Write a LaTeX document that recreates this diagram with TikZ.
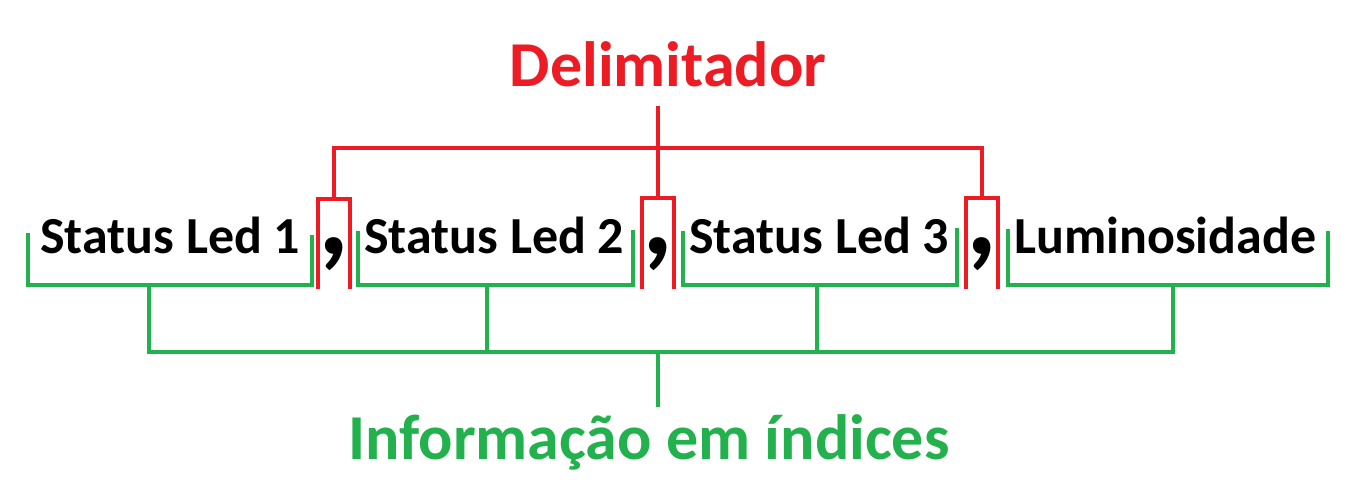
\documentclass[tikz,border=0pt]{standalone}
\usepackage{fontspec}
\setmainfont{Carlito}
\definecolor{pred}{HTML}{ED1C24}
\definecolor{pgreen}{HTML}{22B14C}
\begin{document}
\begin{tikzpicture}[x=1pt,y=-1pt,
  lbl/.style={inner sep=0pt, anchor=base west, font=\fontsize{52}{58}\selectfont\bfseries},
  cma/.style={inner sep=0pt, anchor=base west, font=\fontsize{120}{130}\selectfont\bfseries},
  title/.style={inner sep=0pt, anchor=base, font=\fontsize{64}{70}\selectfont\bfseries},
  gline/.style={draw=pgreen, line width=4.5pt, line cap=rect},
  rline/.style={draw=pred, line width=4.5pt, line cap=rect}]
\useasboundingbox (0,0) rectangle (1360,500);
% texts
\node[lbl] (t1) at (40,253) {Status Led 1};
\node[lbl] (t2) at (364,253) {Status Led 2};
\node[lbl] (t3) at (689,253) {Status Led 3};
\node[lbl] (t4) at (1014,253) {Luminosidade};
\node[cma] (c1) at (318,254) {,};
\node[cma] (c2) at (642,254) {,};
\node[cma] (c3) at (966,254) {,};
\node[title, text=pred] (delim) at (668,87) {Delimitador};
\node[title, text=pgreen] (info) at (649,459) {Informação em índices};
% green brackets
\coordinate (g1) at (149,285);
\coordinate (g2) at (487,285);
\coordinate (g3) at (817,285);
\coordinate (g4) at (1173,285);
\coordinate (gm) at (658,352);
\path[gline] (28,235) -- (28,285) -- (312,285) -- (312,237);
\path[gline] (358,233) -- (358,285) -- (633,285) -- (633,232);
\path[gline] (683,233) -- (683,285) -- (957,285) -- (957,230);
\path[gline] (1008,231) -- (1008,285) -- (1328,285) -- (1328,233);
\path[gline] (g1) -- (g1 |- gm) -- (g4 |- gm) -- (g4);
\path[gline] (g2) -- (g2 |- gm);
\path[gline] (g3) -- (g3 |- gm);
\path[gline] (gm) -- (658,405);
% red brackets
\coordinate (r1) at (334,199);
\coordinate (r2) at (658,198);
\coordinate (r3) at (982,198);
\coordinate (rm) at (658,148);
\path[rline] (318,287) -- (318,199) -- (350,199) -- (350,287);
\path[rline] (642,287) -- (642,198) -- (674,198) -- (674,287);
\path[rline] (966,287) -- (966,198) -- (998,198) -- (998,287);
\path[rline] (r1) -- (r1 |- rm) -- (r3 |- rm) -- (r3);
\path[rline] (r2) -- (658,108);
\end{tikzpicture}
\end{document}
